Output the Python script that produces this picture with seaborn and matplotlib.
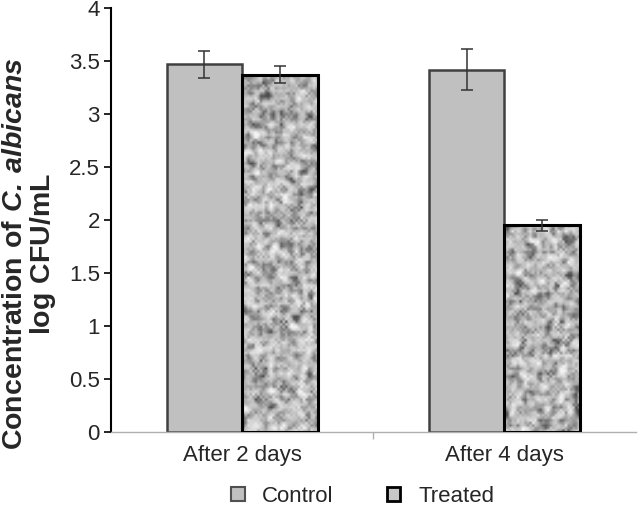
import numpy as np
import pandas as pd
import matplotlib
matplotlib.use("Agg")
import matplotlib.pyplot as plt
import seaborn as sns
from matplotlib.patches import Patch
from matplotlib.colors import LinearSegmentedColormap

# Values
days = ["After 2 days", "After 4 days"]
groups = ["Control", "Treated"]
control_mean = [3.47, 3.42]
control_err = [0.13, 0.19]
treated_mean = [3.37, 1.95]
treated_err = [0.08, 0.05]

df = pd.DataFrame({
    "day": days * 2,
    "group": [groups[0]] * 2 + [groups[1]] * 2,
    "value": control_mean + treated_mean,
    "err": control_err + treated_err,
})

sns.set_theme(style="white")
plt.rcParams['font.family'] = ['Liberation Sans', 'DejaVu Sans']
plt.rcParams['mathtext.fontset'] = 'custom'
plt.rcParams['mathtext.rm'] = 'Liberation Sans'
plt.rcParams['mathtext.bf'] = 'Liberation Sans:bold'
plt.rcParams['mathtext.bfit'] = 'Liberation Sans:italic:bold'

speckle = LinearSegmentedColormap.from_list("speckle", ["#4a4a4a", "#b8b8b8", "#f6f6f6"])

fig = plt.figure(figsize=(6.42, 5.09), dpi=100)
ax = fig.add_axes([0.173, 0.151, 0.817, 0.833])

sns.barplot(data=df, x="day", y="value", hue="group", hue_order=groups,
            palette=["#c0c0c0", "#b0b0b0"], errorbar=None, width=0.577,
            legend=False, ax=ax)

# Style bars and add error bars from the bar geometry
bars = list(ax.patches)
for i, patch in enumerate(bars):
    g = i // 2
    d = i % 2
    row = df[(df.group == groups[g]) & (df.day == days[d])].iloc[0]
    if g == 0:
        patch.set_edgecolor("#404040")
        patch.set_linewidth(1.8)
    else:
        patch.set_edgecolor("black")
        patch.set_linewidth(2.2)
        patch.set_zorder(3)
        # speckled texture for the treated bars
        rng = np.random.default_rng(7 + d)
        noise = rng.normal(size=(140, 30))
        sm = (noise + np.roll(noise, 1, 0) + np.roll(noise, 1, 1)
              + np.roll(noise, -1, 0) + np.roll(noise, -1, 1)) / 5
        x0 = patch.get_x()
        w = patch.get_width()
        h = patch.get_height()
        rows = max(int(140 * h / 3.4), 10)
        im = ax.imshow(sm[:rows], extent=[x0, x0 + w, 0, h], cmap=speckle,
                       vmin=-1.2, vmax=1.1, aspect="auto", zorder=2,
                       interpolation="bilinear")
        im.set_clip_path(patch)
        patch.set_facecolor("none")
    cx = patch.get_x() + patch.get_width() / 2
    ax.errorbar(cx, row.value, yerr=row.err, fmt="none", ecolor="#333333",
                elinewidth=1.1, capsize=4, capthick=1.1, zorder=5)

ax.set_xlim(-0.5, 1.5)
ax.set_ylim(0, 4)
ax.set_yticks(np.arange(0, 4.01, 0.5))
ax.set_yticklabels(["0", "0.5", "1", "1.5", "2", "2.5", "3", "3.5", "4"])
ax.set_xticks([0.5], minor=True)
ax.tick_params(axis="y", which="both", left=True, length=5, width=1.2,
               color="black", labelsize=16, pad=3)
ax.tick_params(axis="x", which="major", bottom=False, labelsize=16, pad=3)
ax.tick_params(axis="x", which="minor", bottom=True, length=5, width=1,
               color="#b0b0b0")
ax.set_xlabel("")
ax.set_ylabel("$\\mathbf{Concentration\\ of\\ }\\mathbfit{C.}\\,\\mathbfit{albicans}$\n"
              "$\\mathbf{log\\ CFU/mL}$",
              fontsize=20.5, linespacing=1.0)
ax.yaxis.set_label_coords(-0.102, 0.42)

for s in ["top", "right"]:
    ax.spines[s].set_visible(False)
ax.spines["left"].set_color("black")
ax.spines["left"].set_linewidth(1.5)
ax.spines["bottom"].set_color("#b0b0b0")
ax.spines["bottom"].set_linewidth(1.0)

handles = [Patch(facecolor="#c0c0c0", edgecolor="#505050", linewidth=1.5),
           Patch(facecolor="#c8c8c8", edgecolor="black", linewidth=2)]
fig.legend(handles, groups, loc="lower center", bbox_to_anchor=(0.565, -0.035),
           ncol=2, frameon=False, fontsize=16, handlelength=0.6,
           handleheight=0.6, columnspacing=2.4, handletextpad=0.8)

fig.savefig("out.png", dpi=100)
